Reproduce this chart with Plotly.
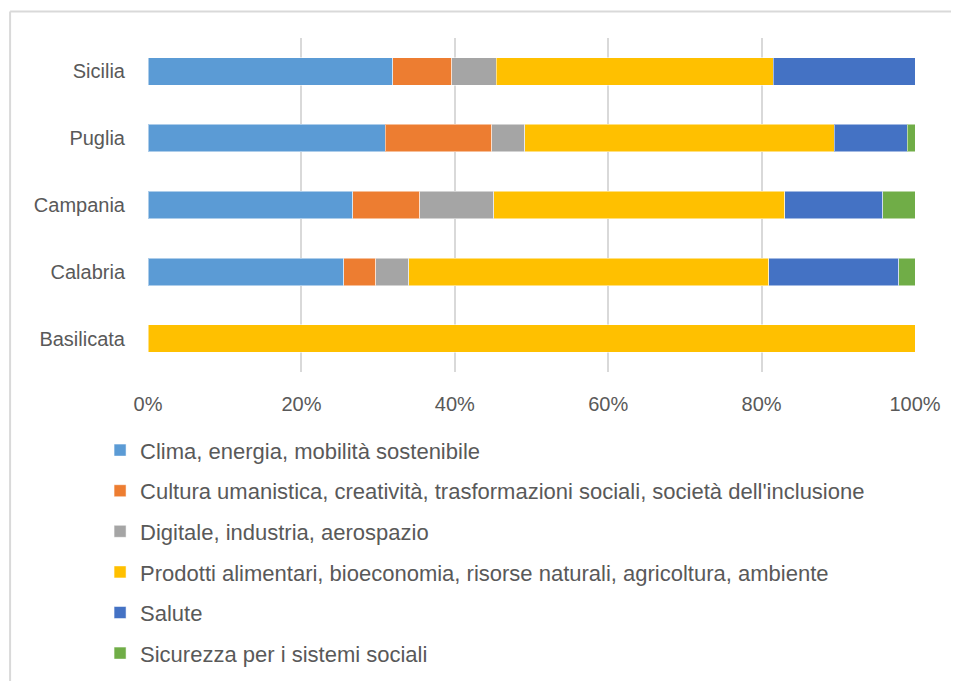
import plotly.graph_objects as go

regions = ["Basilicata", "Calabria", "Campania", "Puglia", "Sicilia"]
series_names = [
    "Clima, energia, mobilità sostenibile",
    "Cultura umanistica, creatività, trasformazioni sociali, società dell'inclusione",
    "Digitale, industria, aerospazio",
    "Prodotti alimentari, bioeconomia, risorse naturali, agricoltura, ambiente",
    "Salute",
    "Sicurezza per i sistemi sociali",
]
clima = [0, 25.5, 26.7, 30.9, 31.9]
cultura = [0, 4.2, 8.7, 13.9, 7.7]
digitale = [0, 4.3, 9.7, 4.3, 5.8]
prodotti = [100, 46.9, 37.9, 40.4, 36.1]
salute = [0, 17.0, 12.8, 9.5, 18.5]
sicurezza = [0, 2.1, 4.2, 1.0, 0]
series_values = [clima, cultura, digitale, prodotti, salute, sicurezza]
colors = ["#5B9BD5", "#ED7D31", "#A5A5A5", "#FFC000", "#4472C4", "#70AD47"]
x_ticks = [0, 20, 40, 60, 80, 100]
x_tick_labels = ["0%", "20%", "40%", "60%", "80%", "100%"]

font_family = "Liberation Sans"
text_color = "#595959"
frame_color = "#d9d9d9"

fig = go.Figure()
for i, (name, vals, col) in enumerate(zip(series_names, series_values, colors)):
    fig.add_trace(go.Bar(
        y=regions, x=vals, name=name, orientation="h",
        marker=dict(color=col, line=dict(color="rgba(255,255,255,0.5)", width=1)),
        legendgroup=f"g{i}",
        hoverinfo="x+y+name",
    ))

fig.update_layout(
    barmode="stack",
    barnorm="percent",
    bargap=0.587,
    width=959, height=681,
    paper_bgcolor="white", plot_bgcolor="white",
    margin=dict(l=139.5, r=52, t=29.5, b=316.5),
    font=dict(family=font_family, size=20, color=text_color),
    xaxis=dict(
        range=[0, 100], tickvals=x_ticks, ticktext=x_tick_labels,
        showgrid=True, gridcolor=frame_color, gridwidth=2,
        zeroline=False, showline=False,
        ticks="outside", ticklen=14, tickcolor="rgba(0,0,0,0)",
        tickfont=dict(size=20, color=text_color),
        fixedrange=True, automargin=False,
    ),
    yaxis=dict(
        showgrid=False, zeroline=False, showline=False,
        ticks="outside", ticklen=18, tickcolor="rgba(0,0,0,0)",
        tickfont=dict(size=20, color=text_color),
        fixedrange=True, automargin=False,
    ),
    legend=dict(
        orientation="v",
        x=-0.0625, xanchor="left", y=-0.1716, yanchor="top",
        font=dict(size=22, color=text_color),
        tracegroupgap=9,
        traceorder="grouped",
    ),
    shapes=[
        dict(type="line", xref="paper", yref="paper",
             x0=-0.1798, x1=-0.1798, y0=-1.2, y1=1.0791,
             line=dict(color=frame_color, width=2)),
        dict(type="line", xref="paper", yref="paper",
             x0=-0.1798, x1=1.2, y0=1.0791, y1=1.0791,
             line=dict(color=frame_color, width=2)),
    ],
)

fig.write_html("out.html")
